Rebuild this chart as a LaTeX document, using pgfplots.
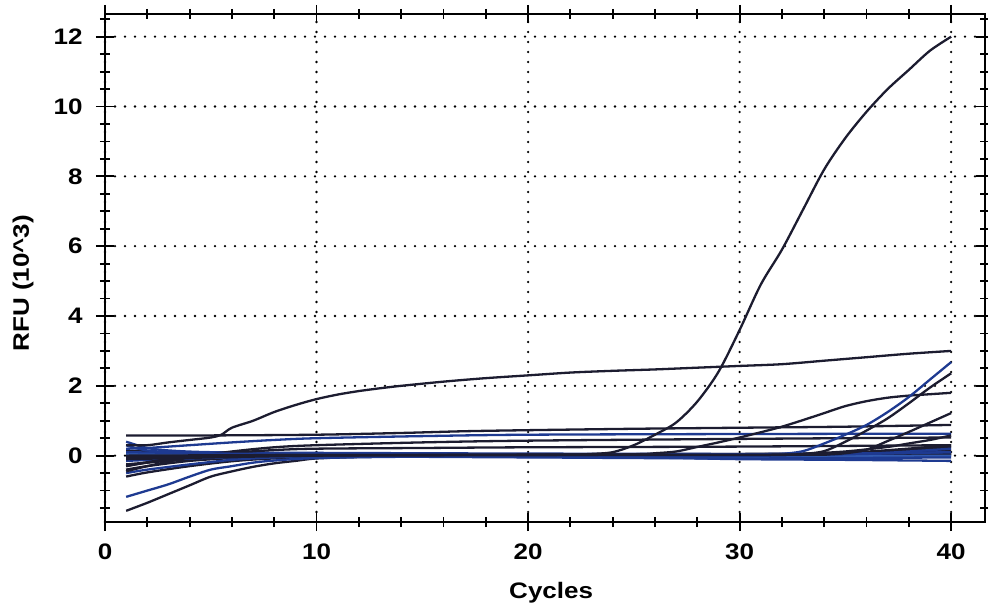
\documentclass[border=0pt]{standalone}
\usepackage{fontspec}
\setmainfont{Liberation Sans}[FakeStretch=1.16]
\usepackage{pgfplots}
\pgfplotsset{compat=1.18}
\definecolor{ink}{RGB}{28,28,48}
\definecolor{blu}{RGB}{30,58,145}
\definecolor{blu2}{RGB}{50,90,175}
\begin{document}
\begin{tikzpicture}
\path[use as bounding box] (-105bp,-85bp) rectangle (883bp,522bp);
\begin{axis}[
  at={(0,0)}, anchor=south west,
  scale only axis, width=880bp, height=508bp,
  xmin=0, xmax=41.6, ymin=-1.9, ymax=12.65,
  xtick={0,10,20,30,40}, ytick={0,2,4,6,8,10,12},
  minor xtick={2,4,6,8,12,14,16,18,22,24,26,28,32,34,36,38},
  minor ytick={-1.5,-1,-0.5,0.5,1,1.5,2.5,3,3.5,4.5,5,5.5,6.5,7,7.5,8.5,9,9.5,10.5,11,11.5,12.5},
  tick align=center,
  major tick length=18bp, minor tick length=10bp,
  every tick/.style={black, line width=1.8bp},
  axis line style={line width=2.2bp},
  grid=major,
  major grid style={black, line width=2.6bp, line cap=round, dash pattern=on 0pt off 10bp},
  /pgf/number format/assume math mode=true,
  ticklabel style={font=\fontsize{22.5}{24}\selectfont\bfseries},
  yticklabel style={xshift=-10bp},
  xticklabel style={yshift=-9bp},
  label style={font=\fontsize{22.5}{24}\selectfont\bfseries},
  xlabel={Cycles}, ylabel={RFU (10\textasciicircum 3)},
  xlabel style={at={(axis description cs:0.507,0)}, anchor=base, yshift=-76bp},
  ylabel style={at={(axis description cs:0,0.47)}, anchor=center, yshift=82bp},
  every axis plot/.append style={line width=2.3bp, smooth, tension=0.5},
]
% baseline bundle (dark)
\addplot[ink] coordinates {(1,0.15)(3,0.1)(10,0.05)(20,0.04)(30,0.05)(36,0.07)(40,0.15)};
\addplot[ink] coordinates {(1,-0.05)(5,-0.02)(10,0.02)(20,0.03)(30,0.04)(35,0.08)(40,0.3)};
\addplot[ink] coordinates {(1,-0.25)(3,-0.15)(6,-0.05)(10,0.0)(20,0.02)(30,0.03)(36,0.08)(40,0.25)};
\addplot[ink] coordinates {(1,-0.4)(2,-0.3)(4,-0.15)(6,-0.07)(8,-0.03)(12,0.0)(30,0.02)(40,0.05)};
\addplot[ink] coordinates {(1,-0.6)(2,-0.48)(4,-0.3)(6,-0.16)(8,-0.08)(12,-0.02)(20,0.0)(40,0.02)};
\addplot[ink] coordinates {(1,-1.58)(2,-1.35)(3,-1.1)(4,-0.85)(5,-0.6)(6,-0.45)(7,-0.32)(8,-0.22)(9,-0.15)(10,-0.08)(12,-0.04)(15,-0.02)(20,0)(30,0.02)(40,0.05)};
% baseline bundle (blue)
\addplot[blu] coordinates {(1,0.4)(2,0.22)(3,0.15)(5,0.1)(10,0.08)(20,0.06)(30,0.05)(35,0.06)(40,0.1)};
\addplot[blu] coordinates {(1,0.3)(2,0.15)(4,0.08)(10,0.04)(20,0.02)(30,0.0)(35,0.02)(40,0.2)};
\addplot[blu2] coordinates {(1,0.05)(5,0.03)(10,0.0)(20,-0.02)(30,-0.03)(40,0.0)};
\addplot[blu] coordinates {(1,-0.15)(3,-0.1)(6,-0.05)(10,-0.02)(20,-0.05)(30,-0.08)(40,-0.05)};
\addplot[blu] coordinates {(1,-0.5)(2,-0.4)(4,-0.25)(6,-0.12)(8,-0.05)(10,-0.02)(20,-0.02)(30,-0.01)(40,0.1)};
\addplot[blu] coordinates {(1,-1.18)(2,-1.0)(3,-0.82)(4,-0.6)(5,-0.4)(6,-0.3)(7,-0.2)(8,-0.14)(10,-0.07)(15,-0.03)(25,-0.05)(30,-0.1)(35,-0.12)(40,-0.15)};
% plateau lines
\addplot[ink] coordinates {(1,-0.3)(2,-0.2)(4,-0.05)(6,0.08)(8,0.16)(10,0.2)(15,0.22)(20,0.24)(30,0.26)(40,0.3)};
\addplot[ink] coordinates {(1,-0.45)(2,-0.3)(4,-0.05)(6,0.12)(8,0.24)(10,0.3)(15,0.38)(20,0.43)(30,0.48)(40,0.52)};
\addplot[blu] coordinates {(1,0.2)(2,0.22)(4,0.3)(6,0.38)(8,0.45)(10,0.5)(15,0.56)(20,0.6)(30,0.62)(40,0.63)};
\addplot[ink] coordinates {(1,0.58)(5,0.58)(10,0.6)(14,0.65)(17,0.7)(20,0.73)(25,0.77)(30,0.8)(35,0.83)(40,0.88)};
% late risers
\addplot[ink] coordinates {(33,0.05)(35,0.12)(37,0.25)(38,0.35)(39,0.45)(40,0.58)};
\addplot[ink] coordinates {(1,-0.3)(3,-0.1)(6,0)(20,0.02)(25,0.04)(26,0.07)(27,0.12)(28,0.25)(29,0.38)(30,0.52)(31,0.67)(32,0.83)(33,1.02)(34,1.22)(35,1.42)(36,1.56)(37,1.66)(38,1.72)(39,1.76)(40,1.8)};
\addplot[blu] coordinates {(1,0.1)(10,0.03)(20,0.02)(30,0.02)(31,0.02)(32,0.05)(33,0.13)(34,0.35)(35,0.6)(36,0.88)(37,1.25)(38,1.68)(39,2.18)(40,2.68)};
\addplot[ink] coordinates {(1,0.0)(10,0.02)(20,0.02)(31,0.02)(32,0.02)(33,0.05)(34,0.13)(35,0.4)(36,0.72)(37,1.07)(38,1.5)(39,1.95)(40,2.36)};
\addplot[ink] coordinates {(1,-0.1)(10,0.0)(20,0.02)(33,0.03)(34,0.03)(35,0.07)(36,0.17)(37,0.42)(38,0.68)(39,0.95)(40,1.22)};
% strong amplification
\addplot[ink] coordinates {(1,0.3)(2,0.3)(3,0.38)(4,0.45)(5,0.52)(5.5,0.6)(6,0.8)(7,1.0)(8,1.25)(9,1.45)(10,1.62)(11,1.75)(12,1.85)(13,1.93)(14,2.0)(16,2.12)(18,2.22)(20,2.3)(22,2.38)(24,2.43)(26,2.47)(28,2.52)(30,2.57)(32,2.62)(34,2.72)(36,2.82)(38,2.92)(40,3.0)};
\addplot[ink] coordinates {(1,-0.05)(5,0)(10,0.02)(15,0.02)(20,0.03)(22,0.03)(23,0.05)(24,0.1)(25,0.3)(26,0.6)(27,0.95)(28,1.55)(29,2.4)(30,3.6)(31,4.9)(32,5.9)(33,7.05)(34,8.2)(35,9.1)(36,9.85)(37,10.5)(38,11.05)(39,11.6)(40,12.0)};
\end{axis}
\end{tikzpicture}
\end{document}
